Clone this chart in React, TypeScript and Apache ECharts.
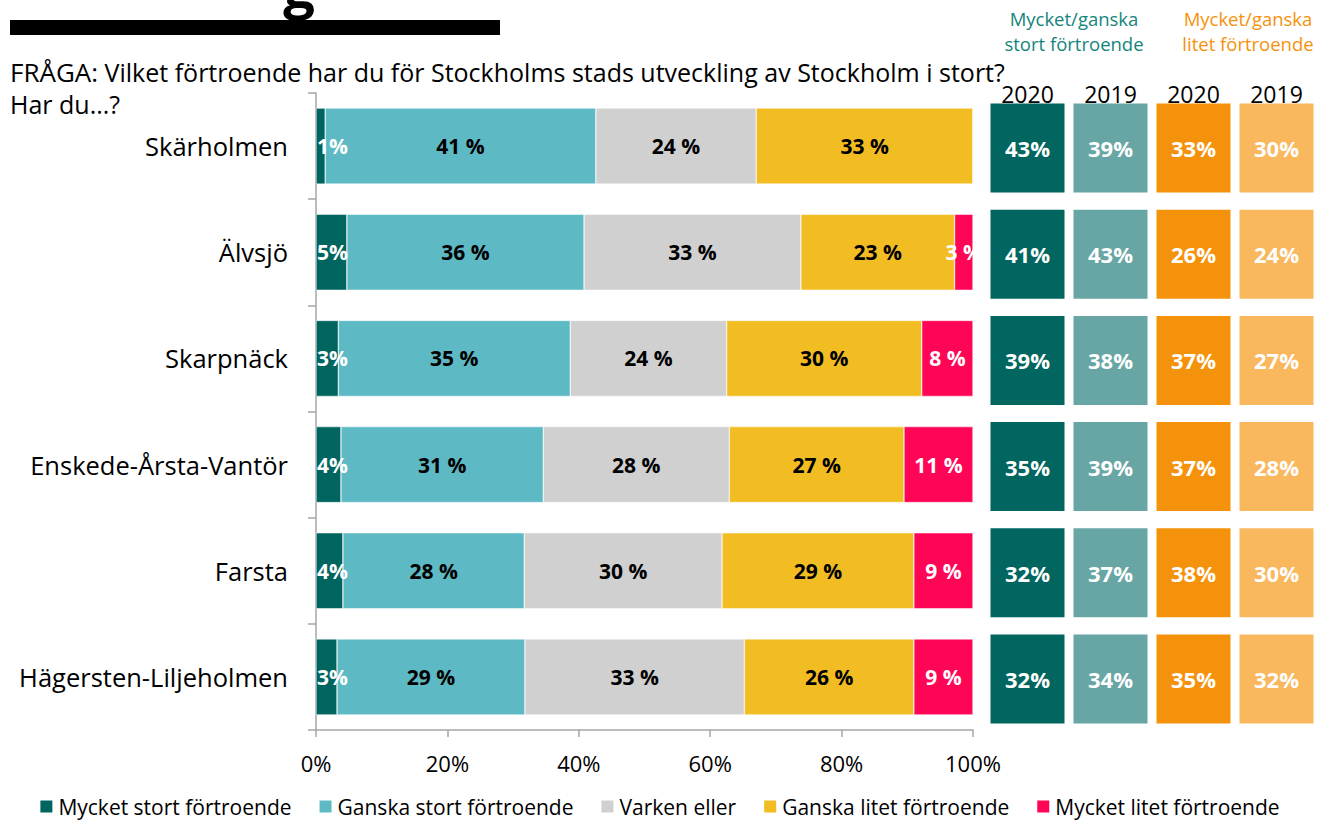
import React, { useEffect, useRef } from "react";
import * as echarts from "echarts";

const categories = ["Skärholmen", "Älvsjö", "Skarpnäck", "Enskede-Årsta-Vantör", "Farsta", "Hägersten-Liljeholmen"];
const seriesNames = ["Mycket stort förtroende", "Ganska stort förtroende", "Varken eller", "Ganska litet förtroende", "Mycket litet förtroende"];
const mycketStort = [1.4, 4.7, 3.4, 3.8, 4.1, 3.2];
const ganskaStort = [41.2, 36.1, 35.3, 30.8, 27.6, 28.6];
const varkenEller = [24.4, 33.0, 23.8, 28.3, 30.1, 33.4];
const ganskaLitet = [33.0, 23.4, 29.7, 26.6, 29.2, 25.8];
const mycketLitet = [0, 2.8, 7.8, 10.5, 9.0, 9.0];
const xTicks = [0, 20, 40, 60, 80, 100];

const tileYears = ["2020", "2019", "2020", "2019"];
const stort2020 = [43, 41, 39, 35, 32, 32];
const stort2019 = [39, 43, 38, 39, 37, 34];
const litet2020 = [33, 26, 37, 37, 38, 35];
const litet2019 = [30, 24, 27, 28, 30, 32];

const FONT = "Open Sans";
const barColors = ["#00655F", "#5DBAC4", "#D0D0D0", "#F2BD22", "#FF0556"];
const tileColors = ["#00665F", "#67A6A4", "#F5920B", "#F9B75E"];

export default function App() {
  const ref = useRef<HTMLDivElement>(null);
  useEffect(() => {
    if (!ref.current) return;
    const chart = echarts.init(ref.current, null, { renderer: "svg" });
    const barData = [mycketStort, ganskaStort, varkenEller, ganskaLitet, mycketLitet];
    const barSeries = barData.map((arr, i) => ({
      type: "bar",
      name: seriesNames[i],
      stack: "total",
      xAxisIndex: 0,
      yAxisIndex: 0,
      barWidth: 76,
      data: arr,
      itemStyle: { color: barColors[i], borderColor: "#ffffff", borderWidth: 0.5 },
      label: {
        show: true,
        position: i === 0 ? "insideLeft" : "inside",
        distance: 1,
        fontFamily: FONT,
        fontWeight: "bold",
        fontSize: 21,
        color: i === 0 || i === 4 ? "#ffffff" : "#000000",
        formatter: (p: any) => {
          if (!p.value) return "";
          const v = Math.round(p.value);
          return i === 0 ? v + "%" : v + " %";
        },
      },
    }));
    const tileData = [stort2020, stort2019, litet2020, litet2019];
    const tileSeries = tileData.map((arr, c) => ({
      type: "scatter",
      xAxisIndex: 1,
      yAxisIndex: 1,
      symbol: "rect",
      symbolSize: [74, 89],
      clip: false,
      data: arr.map((v, r) => [c, r, v]),
      encode: { x: 0, y: 1 },
      itemStyle: { color: tileColors[c], opacity: 1 },
      label: {
        show: true,
        position: "inside",
        fontFamily: FONT,
        fontWeight: "bold",
        fontSize: 22,
        color: "#ffffff",
        formatter: (p: any) => p.value[2] + "%",
      },
    }));
    chart.setOption({
      animation: false,
      textStyle: { fontFamily: FONT },
      grid: [
        { left: 316, top: 93, width: 657, height: 637 },
        { left: 986, top: 95, width: 343, height: 637 },
      ],
      xAxis: [
        {
          type: "value",
          gridIndex: 0,
          min: xTicks[0],
          max: xTicks[xTicks.length - 1],
          interval: xTicks[1] - xTicks[0],
          axisLine: { show: true, lineStyle: { color: "#A6A6A6", width: 1.5 } },
          axisTick: { show: true, length: 7, lineStyle: { color: "#A6A6A6", width: 1.5 } },
          splitLine: { show: false },
          axisLabel: { fontFamily: FONT, fontSize: 22, color: "#000", margin: 22, formatter: "{value}%" },
        },
        {
          type: "category",
          gridIndex: 1,
          position: "top",
          data: tileYears,
          axisLine: { show: false },
          axisTick: { show: false },
          axisLabel: { fontFamily: FONT, fontSize: 23, color: "#000", margin: -10 },
        },
      ],
      yAxis: [
        {
          type: "category",
          gridIndex: 0,
          inverse: true,
          data: categories,
          axisLine: { show: true, lineStyle: { color: "#A6A6A6", width: 1.5 } },
          axisTick: { show: true, length: 8, lineStyle: { color: "#A6A6A6", width: 1.5 } },
          axisLabel: { fontFamily: FONT, fontSize: 25.5, color: "#000", margin: 28 },
        },
        {
          type: "category",
          gridIndex: 1,
          inverse: true,
          data: categories,
          show: false,
        },
      ],
      legend: {
        data: seriesNames,
        bottom: -2,
        left: "center",
        itemWidth: 14,
        itemHeight: 14,
        itemGap: 26,
        icon: "rect",
        textStyle: { fontFamily: FONT, fontSize: 21, color: "#000" },
      },
      graphic: [
        { type: "rect", shape: { x: 10, y: 20, width: 490, height: 15 }, style: { fill: "#000" } },
        {
          type: "text",
          x: 299,
          y: 14,
          style: { text: "g", font: `bold 56px "${FONT}"`, fill: "#000", align: "center", verticalAlign: "bottom" },
        },
        {
          type: "text",
          x: 10,
          y: 72,
          style: {
            text: "{a|FRÅGA:}{b| Vilket förtroende har du för Stockholms stads utveckling av Stockholm i stort?}",
            verticalAlign: "middle",
            rich: {
              a: { fontFamily: FONT, fontSize: 26, fill: "#000" },
              b: { fontFamily: FONT, fontSize: 25, fill: "#000" },
            },
          } as any,
        },
        {
          type: "text",
          x: 10,
          y: 104,
          style: { text: "Har du...?", font: `25px "${FONT}"`, fill: "#000", verticalAlign: "middle" },
        },
        {
          type: "text",
          x: 1074,
          y: 31,
          style: {
            text: "Mycket/ganska\nstort förtroende",
            font: `18.5px "${FONT}"`,
            lineHeight: 25,
            fill: "#14857C",
            align: "center",
            verticalAlign: "middle",
          },
        },
        {
          type: "text",
          x: 1248,
          y: 31,
          style: {
            text: "Mycket/ganska\nlitet förtroende",
            font: `18.5px "${FONT}"`,
            lineHeight: 25,
            fill: "#F5920B",
            align: "center",
            verticalAlign: "middle",
          },
        },
      ],
      series: [...barSeries, ...tileSeries],
    });
    return () => chart.dispose();
  }, []);
  return (
    <div
      ref={ref}
      style={{ position: "fixed", left: 0, top: 0, width: 1318, height: 820, background: "#fff" }}
    />
  );
}
